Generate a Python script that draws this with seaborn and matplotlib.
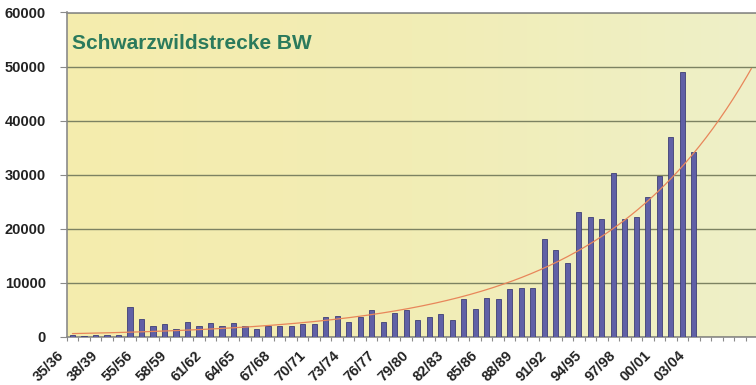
import numpy as np
import pandas as pd
import matplotlib
matplotlib.use("Agg")
import matplotlib.pyplot as plt
from matplotlib.colors import LinearSegmentedColormap
from matplotlib.ticker import FixedLocator
from matplotlib.transforms import ScaledTranslation
import seaborn as sns

# Jagdjahre (Saison) und Schwarzwildstrecke in Baden-Württemberg
saisons = [
    "35/36", "36/37", "37/38", "38/39", "39/40",
    "54/55", "55/56", "56/57", "57/58", "58/59", "59/60", "60/61", "61/62",
    "62/63", "63/64", "64/65", "65/66", "66/67", "67/68", "68/69", "69/70",
    "70/71", "71/72", "72/73", "73/74", "74/75", "75/76", "76/77", "77/78",
    "78/79", "79/80", "80/81", "81/82", "82/83", "83/84", "84/85", "85/86",
    "86/87", "87/88", "88/89", "89/90", "90/91", "91/92", "92/93", "93/94",
    "94/95", "95/96", "96/97", "97/98", "98/99", "99/00", "00/01", "01/02",
    "02/03", "03/04",
]
strecke = [
    250, 200, 300, 250, 350,
    5500, 3300, 2000, 2300, 1400, 2700, 2000, 2600,
    2000, 2600, 2000, 1400, 2000, 2000, 2000, 2400,
    2400, 3600, 3900, 2700, 3600, 4900, 2700, 4400,
    4900, 3000, 3600, 4200, 3000, 6900, 5100, 7200,
    6900, 8800, 9100, 9100, 18000, 16000, 13600, 23000,
    22100, 21800, 30300, 21800, 22100, 25900, 29800, 37000,
    49000, 34100,
]
prognose_perioden = 5
y_ticks = [0, 10000, 20000, 30000, 40000, 50000, 60000]
titel = "Schwarzwildstrecke BW"

df = pd.DataFrame({"Saison": saisons, "Strecke": strecke})

sns.set_theme(style="white")
plt.rcParams["font.family"] = ["Liberation Sans", "DejaVu Sans"]

fig = plt.figure(figsize=(7.56, 3.85), dpi=100)
ax = fig.add_axes([66.7 / 756, 1 - 336.7 / 385, 1 - 66.7 / 756, (336.7 - 12.5) / 385])

# pale yellow plot area with a slight shift toward green on the right
bg = LinearSegmentedColormap.from_list("bg", ["#f5ecad", "#f2edb5", "#eef0c8"])
ax.imshow(np.linspace(0, 1, 256)[None, :], cmap=bg, aspect="auto",
          extent=[0, 1, 0, 1], transform=ax.transAxes, zorder=0)

sns.barplot(data=df, x="Saison", y="Strecke", color="#6060a6", width=0.45,
            saturation=1, edgecolor="#3e3e76", linewidth=0.6, ax=ax, zorder=3)

# exponential trend fitted on all seasons, extended a few periods ahead
pos = np.arange(len(strecke))
b, ln_a = np.polyfit(pos, np.log(strecke), 1)
xt = np.linspace(0, len(strecke) - 1 + prognose_perioden, 300)
ax.plot(xt, np.exp(ln_a + b * xt), color="#e8865a", lw=0.9, zorder=4)

ax.set_xlim(-0.5, len(strecke) - 1 + prognose_perioden + 0.4)
ax.set_ylim(y_ticks[0], y_ticks[-1])

ax.set_yticks(y_ticks)
ax.set_yticklabels([str(v) for v in y_ticks], fontsize=10.5, fontweight="bold")
ax.yaxis.grid(True, color="#7c8262", lw=1.0)
ax.set_axisbelow(False)
for gl in ax.get_ygridlines():
    gl.set_zorder(1)

lab_pos = list(range(0, len(saisons), 3))
ax.set_xticks(lab_pos)
ax.set_xticklabels([saisons[i] for i in lab_pos], rotation=45, ha="right",
                   va="top", fontsize=10.5, fontweight="bold")
ax.xaxis.set_minor_locator(FixedLocator(np.arange(-0.5, len(strecke) + prognose_perioden, 1)))

ax.tick_params(axis="x", which="major", length=0, pad=6, colors="#222222")
ax.tick_params(axis="x", which="minor", length=3, width=0.8, color="#8a8a8a", bottom=True)
ax.tick_params(axis="y", length=5, width=0.8, color="#8a8a8a", pad=10, left=True, colors="#222222")
ax.set_xlabel("")
ax.set_ylabel("")

# shift the slanted season labels slightly left and down
shift = ScaledTranslation(-6 / 100, -3 / 100, fig.dpi_scale_trans)
for tick in ax.xaxis.get_major_ticks():
    tick.label1.set_transform(tick.label1.get_transform() + shift)

for side in ("left", "bottom", "top"):
    ax.spines[side].set_visible(True)
    ax.spines[side].set_color("#8a8a8a")
    ax.spines[side].set_linewidth(1.2)
ax.spines["right"].set_visible(False)

ax.text(0.008, 0.905, titel, transform=ax.transAxes, fontsize=15,
        fontweight="bold", color="#2b7a5c", va="center", ha="left", zorder=5)

fig.savefig("out.png", dpi=100, facecolor="white")
